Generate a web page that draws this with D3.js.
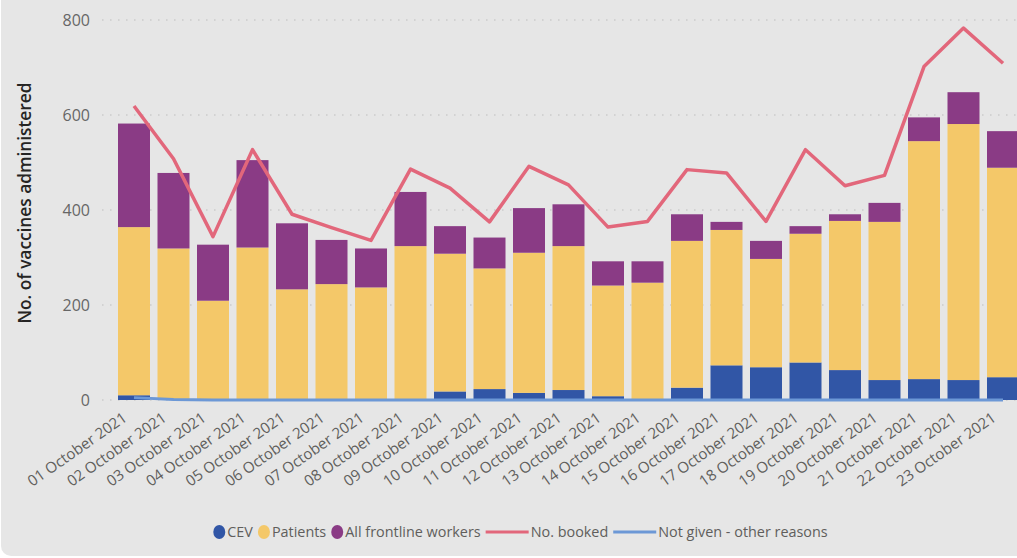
<!DOCTYPE html>
<html>
<head>
<meta charset="utf-8">
<script src="https://cdn.jsdelivr.net/npm/d3@7"></script>
<style>
  html, body { margin: 0; padding: 0; background: #ffffff; overflow: hidden; }
  svg { display: block; }
</style>
</head>
<body>
<svg id="chart" width="1017" height="558"></svg>
<script>
const dates = ["01 October 2021","02 October 2021","03 October 2021","04 October 2021","05 October 2021","06 October 2021","07 October 2021","08 October 2021","09 October 2021","10 October 2021","11 October 2021","12 October 2021","13 October 2021","14 October 2021","15 October 2021","16 October 2021","17 October 2021","18 October 2021","19 October 2021","20 October 2021","21 October 2021","22 October 2021","23 October 2021"];
const cev       = [10, 1, 0, 0, 0, 0, 0, 0, 18, 23, 15, 21, 8, 0, 26, 73, 69, 79, 63, 42, 44, 42, 48];
const patients  = [354, 318, 209, 321, 233, 244, 237, 324, 290, 254, 295, 303, 233, 247, 309, 285, 228, 271, 314, 333, 501, 539, 441];
const frontline = [218, 159, 118, 184, 139, 93, 82, 114, 58, 65, 94, 88, 51, 45, 56, 17, 38, 16, 14, 40, 50, 67, 77];
const booked    = [619, 508, 344, 527, 391, 363, 336, 486, 446, 375, 492, 453, 364, 376, 485, 478, 376, 527, 451, 473, 702, 783, 709];
const notGiven  = [5, 1, 0, 0, 0, 0, 0, 0, 0, 0, 0, 0, 0, 0, 0, 0, 0, 0, 0, 0, 0, 0, 0];
const yTicks    = [0, 200, 400, 600, 800];
const seriesNames = ["CEV", "Patients", "All frontline workers"];
const lineNames = ["No. booked", "Not given - other reasons"];

const colors = {
  "CEV": "#3156A6",
  "Patients": "#F4C869",
  "All frontline workers": "#8A3B85",
  "No. booked": "#E2677B",
  "Not given - other reasons": "#6C98D6"
};
const FONT = "'Open Sans', 'Noto Sans', sans-serif";

const svg = d3.select("#chart");

// card background
svg.append("rect").attr("x", 1).attr("y", -12).attr("width", 1040).attr("height", 568)
  .attr("rx", 10).attr("fill", "#E6E6E6");

const x = d3.scaleBand().domain(dates).range([114.25, 1022.75]).paddingInner(0.19).paddingOuter(0.095);
const y = d3.scaleLinear().domain([0, 800]).range([400, 20]);

// gridlines
const grid = svg.append("g");
grid.selectAll("line").data(yTicks).join("line")
  .attr("x1", 102).attr("x2", 1017)
  .attr("y1", d => y(d)).attr("y2", d => y(d))
  .attr("stroke", "#BDBDBD").attr("stroke-width", 1.2)
  .attr("stroke-dasharray", "1.5,6.5");

// y axis
const yAxis = d3.axisLeft(y).tickValues(yTicks).tickSize(0).tickPadding(0);
const yg = svg.append("g").attr("transform", "translate(90,0)").call(yAxis);
yg.select(".domain").remove();
yg.selectAll("text").attr("font-family", FONT).attr("font-size", 16).attr("fill", "#666666");

// y title
svg.append("text")
  .attr("transform", "translate(31,203) rotate(-90)")
  .attr("text-anchor", "middle")
  .attr("font-family", FONT).attr("font-size", 17.3).attr("font-weight", 600)
  .attr("fill", "#252423")
  .text("No. of vaccines administered");

// stacked bars
const rows = dates.map((d, i) => ({ date: d, "CEV": cev[i], "Patients": patients[i], "All frontline workers": frontline[i] }));
const stack = d3.stack().keys(seriesNames)(rows);
svg.append("g").selectAll("g").data(stack).join("g")
  .attr("fill", s => colors[s.key])
  .selectAll("rect").data(s => s).join("rect")
  .attr("x", d => x(d.data.date))
  .attr("width", x.bandwidth())
  .attr("y", d => y(d[1]))
  .attr("height", d => Math.max(0, y(d[0]) - y(d[1])));

// lines
const cx = d => x(d) + x.bandwidth() / 2;
const lineGen = d3.line().x(d => cx(d.date)).y(d => y(d.v));
svg.append("path")
  .datum(dates.map((d, i) => ({ date: d, v: notGiven[i] })))
  .attr("d", lineGen).attr("fill", "none")
  .attr("stroke", colors["Not given - other reasons"]).attr("stroke-width", 3)
  .attr("stroke-linejoin", "round");
svg.append("path")
  .datum(dates.map((d, i) => ({ date: d, v: booked[i] })))
  .attr("d", lineGen).attr("fill", "none")
  .attr("stroke", colors["No. booked"]).attr("stroke-width", 3.5)
  .attr("stroke-linejoin", "round");

// x axis labels
const xAxis = d3.axisBottom(x).tickSize(0).tickPadding(0);
const xg = svg.append("g").attr("transform", "translate(0,405)").call(xAxis);
xg.select(".domain").remove();
xg.selectAll("text")
  .attr("font-family", FONT).attr("font-size", 15.1).attr("fill", "#605E5C")
  .attr("text-anchor", "end")
  .attr("y", 0).attr("dy", 0)
  .attr("transform", "translate(-6,15) rotate(-35)");

// legend
const legend = svg.append("g").attr("font-family", FONT).attr("font-size", 14.4).attr("fill", "#605E5C");
const items = [
  ...seriesNames.map(n => ({ name: n, type: "dot" })),
  ...lineNames.map(n => ({ name: n, type: "line" }))
];
let lx = 0;
const ly = 532;
items.forEach(it => {
  const g = legend.append("g");
  if (it.type === "dot") {
    g.append("ellipse").attr("cx", lx + 6).attr("cy", ly).attr("rx", 6).attr("ry", 7).attr("fill", colors[it.name]);
    lx += 13;
  } else {
    g.append("line").attr("x1", lx).attr("x2", lx + 43).attr("y1", ly).attr("y2", ly)
      .attr("stroke", colors[it.name]).attr("stroke-width", 3);
    lx += 44;
  }
  const t = g.append("text").attr("x", lx + 1).attr("y", ly).attr("dy", "0.35em").text(it.name);
  lx += t.node().getComputedTextLength() + 6;
});
const totalW = lx - 6;
legend.attr("transform", `translate(${520 - totalW / 2},0)`);
</script>
</body>
</html>
